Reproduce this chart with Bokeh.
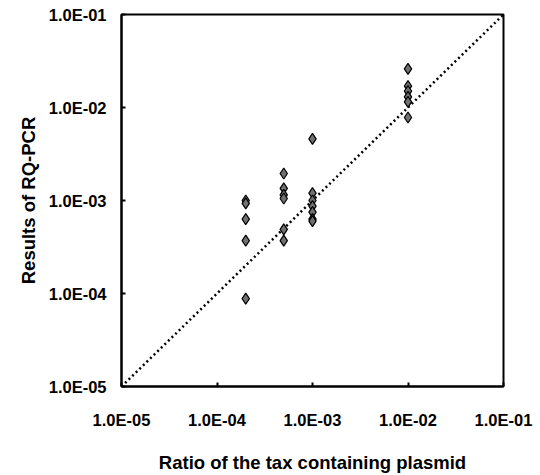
from bokeh.plotting import figure
from bokeh.models import FixedTicker, CustomJSTickFormatter, ColumnDataSource
from bokeh.embed import file_html
from bokeh.resources import INLINE

# Data (ratio of tax plasmid vs RQ-PCR result)
x_ratio = [2e-4, 2e-4, 2e-4, 2e-4, 2e-4,
           5e-4, 5e-4, 5e-4, 5e-4, 5e-4, 5e-4,
           1e-3, 1e-3, 1e-3, 1e-3, 1e-3, 1e-3, 1e-3,
           1e-2, 1e-2, 1e-2, 1e-2, 1e-2, 1e-2]
y_rqpcr = [1.0e-3, 9.3e-4, 6.3e-4, 3.7e-4, 8.8e-5,
           1.95e-3, 1.35e-3, 1.15e-3, 1.05e-3, 4.9e-4, 3.7e-4,
           4.6e-3, 1.2e-3, 1.0e-3, 8.7e-4, 7.5e-4, 6.3e-4, 6.0e-4,
           2.6e-2, 1.7e-2, 1.5e-2, 1.3e-2, 1.15e-2, 7.8e-3]
tick_values = [1e-5, 1e-4, 1e-3, 1e-2, 1e-1]
diag_x = [1e-5, 1e-1]
diag_y = [1e-5, 1e-1]

FONT = "Liberation Sans"

p = figure(width=540, height=475, x_axis_type="log", y_axis_type="log",
           x_range=(1e-5, 1e-1), y_range=(1e-5, 1e-1),
           output_backend="svg", toolbar_location=None,
           min_border_left=121, min_border_right=37,
           min_border_top=14, min_border_bottom=88)

p.background_fill_color = "white"
p.border_fill_color = "white"
p.outline_line_color = "black"
p.outline_line_width = 2
p.xgrid.visible = False
p.ygrid.visible = False

fmt = CustomJSTickFormatter(code="""
const e = Math.round(Math.log10(tick));
const s = Math.abs(e).toString().padStart(2, '0');
return '1.0E' + (e < 0 ? '-' : '+') + s;
""")

for ax in (p.xaxis[0], p.yaxis[0]):
    ax.ticker = FixedTicker(ticks=tick_values, minor_ticks=[])
    ax.formatter = fmt
    ax.axis_line_color = "black"
    ax.axis_line_width = 2
    ax.major_tick_in = 4
    ax.major_tick_out = 0
    ax.major_tick_line_width = 2
    ax.minor_tick_in = 0
    ax.minor_tick_out = 0
    ax.major_label_text_font = FONT
    ax.major_label_text_font_size = "16.5px"
    ax.major_label_text_font_style = "bold"
    ax.major_label_text_color = "black"
    ax.axis_label_text_font = FONT
    ax.axis_label_text_font_style = "bold"
    ax.axis_label_text_color = "black"

p.xaxis.axis_label = "Ratio of the tax containing plasmid"
p.yaxis.axis_label = "Results of RQ-PCR"
p.xaxis.axis_label_text_font_size = "18.5px"
p.yaxis.axis_label_text_font_size = "18.5px"
p.xaxis.major_label_standoff = 24
p.xaxis.axis_label_standoff = 20
p.yaxis.major_label_standoff = 15
p.yaxis.axis_label_standoff = 7

p.line(diag_x, diag_y, line_color="black", line_width=2.5, line_dash="2 3")

src = ColumnDataSource(dict(x=x_ratio, y=y_rqpcr))
p.scatter("x", "y", source=src, marker="diamond", size=11,
          fill_color="#707070", line_color="black", line_width=1.2)

open("out.html", "w").write(file_html(p, INLINE))
